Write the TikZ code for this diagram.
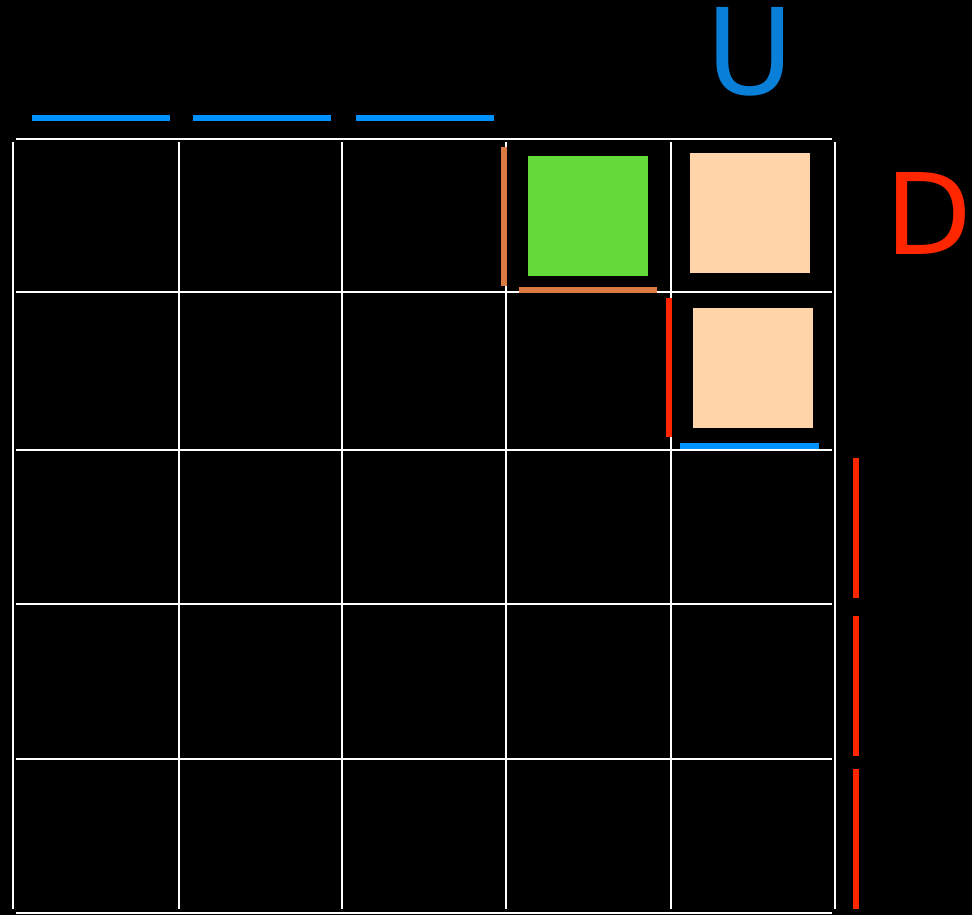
\documentclass[tikz,border=0pt]{standalone}
\usepackage{fontspec}
\setmainfont{DejaVu Sans}
\usepackage{tikz}
\definecolor{gridblue}{RGB}{0,145,255}
\definecolor{letterblue}{RGB}{10,127,216}
\definecolor{cellred}{RGB}{255,38,0}
\definecolor{cellorange}{RGB}{217,123,66}
\definecolor{cellgreen}{RGB}{99,218,56}
\definecolor{cellpeach}{RGB}{255,212,169}
\tikzset{
  gridline/.style={white,line width=0.044cm},
  bar/.style={line width=0.12cm},
}

\begin{document}
\begin{tikzpicture}[x=0.02cm,y=-0.02cm]
\useasboundingbox (0,0) rectangle (972,915);
\fill[black] (0,0) rectangle (972,915);
% grille
\foreach \y in {139,292,450,604,759,913}
  \draw[gridline] (16,\y) -- (832,\y);
\foreach \x in {13,179,342,506,671,835}
  \draw[gridline] (\x,142) -- (\x,909);
% barres bleues du haut
\foreach \x in {32,193,356}
  \draw[bar,gridblue] (\x,118) -- (\x+138,118);
% case verte
\fill[cellgreen] (528,156) rectangle (648,276);
\draw[bar,cellorange] (504,147) -- (504,286);
\draw[bar,cellorange] (519,290) -- (657,290);
% cases claires
\fill[cellpeach] (690,153) rectangle (810,273);
\fill[cellpeach] (693,308) rectangle (813,428);
\draw[bar,cellred] (669,298) -- (669,437);
\draw[bar,gridblue] (680,446) -- (819,446);
% barres rouges a droite
\foreach \y in {458,616,769}
  \draw[bar,cellred] (856,\y) -- (856,\y+140);
% lettres
\node[letterblue,anchor=base,inner sep=0pt,font=\fontsize{68}{70}\selectfont] (lblU) at (750,95) {U};
\node[cellred,anchor=base,inner sep=0pt,font=\fontsize{64}{66}\selectfont] (lblD) at (929,255) {D};
\end{tikzpicture}
\end{document}
